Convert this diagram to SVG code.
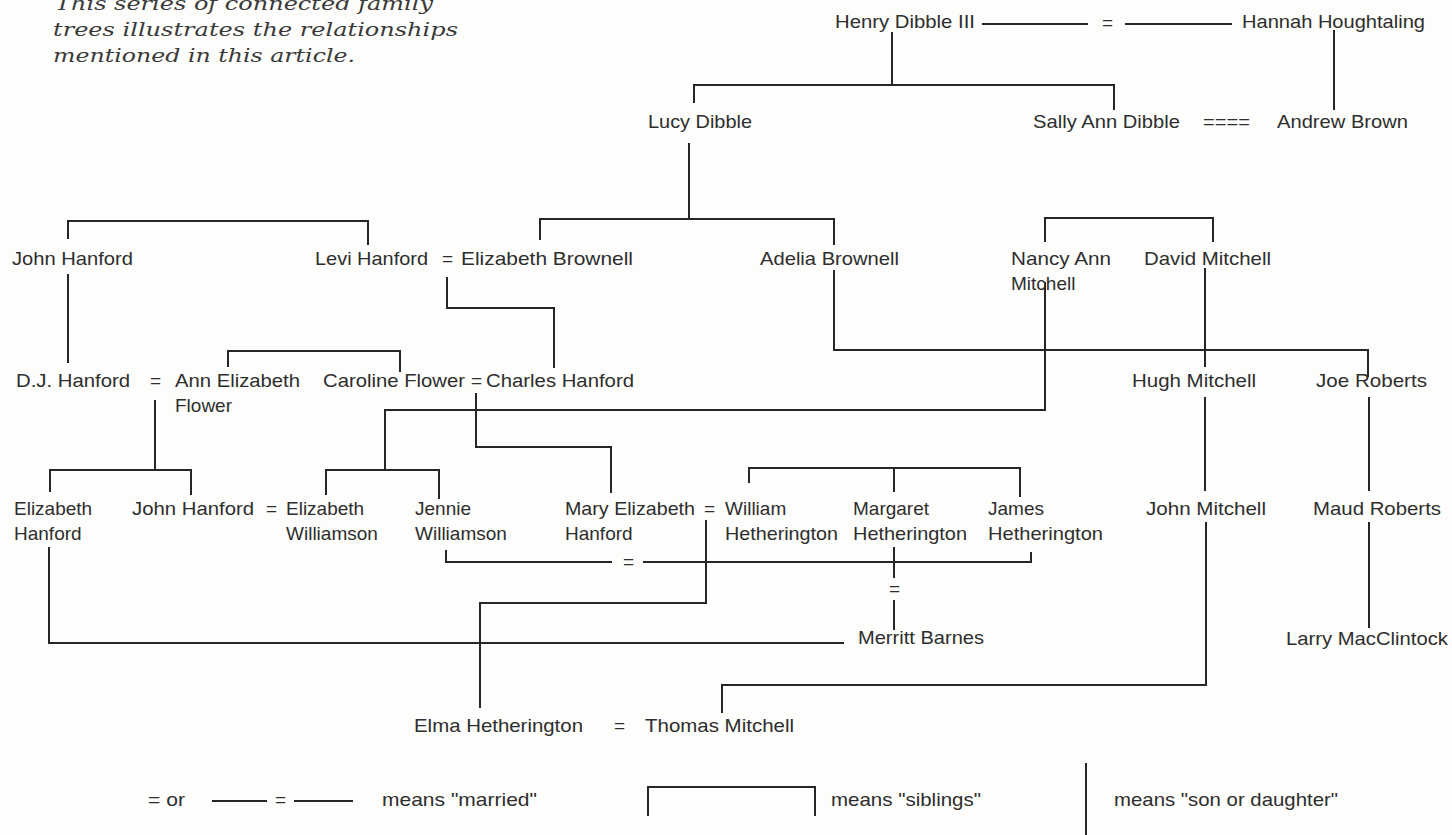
<svg xmlns="http://www.w3.org/2000/svg" width="1452" height="835" viewBox="0 0 1452 835">
<style>
.bg{fill:#fdfdfb}
.n{font-family:"Liberation Sans",Arial,sans-serif;font-size:19px;fill:#2e2e2e}
.cap{font-family:"DejaVu Serif","Liberation Serif",serif;font-style:italic;font-size:19px;fill:#3a3a3a}
.c path{fill:none;stroke:#262626;stroke-width:2}
</style>
<rect class="bg" x="0" y="0" width="1452" height="835"/>
<g id="caption">
<text class="cap" x="55" y="10" textLength="378" lengthAdjust="spacingAndGlyphs">This series of connected family</text>
<text class="cap" x="53" y="36" textLength="405" lengthAdjust="spacingAndGlyphs">trees illustrates the relationships</text>
<text class="cap" x="53" y="62" textLength="302" lengthAdjust="spacingAndGlyphs">mentioned in this article.</text>
</g>
<g id="connectors" class="c">
<path d="M982,24 H1088 M1125,24 H1232"/>
<path d="M892,32 V85 M694,103 V85 H1114 V110"/>
<path d="M1334,30 V110"/>
<path d="M689,143 V219 M540,240 V219 H834 V245"/>
<path d="M68,239 V221 H368 V245"/>
<path d="M68,274 V363"/>
<path d="M447,277 V308 H554 V368"/>
<path d="M228,367 V351 H400 V372"/>
<path d="M834,270 V350 H1368 V377"/>
<path d="M1045,242 V218 H1213 V242"/>
<path d="M1045,282 V410 H385 V470 M326,495 V470 H439 V499"/>
<path d="M1205,268 V367"/>
<path d="M155,400 V470 M50,492 V470 H191 V495"/>
<path d="M476,393 V447 H611 V493"/>
<path d="M749,483 V468 H1020 V497 M894,468 V492"/>
<path d="M1205,397 V491"/>
<path d="M1369,397 V491"/>
<path d="M446,550 V562 H612 M643,562 H1031 V552"/>
<path d="M706,520 V603 H480 V708"/>
<path d="M894,547 V578 M894,600 V630"/>
<path d="M49,547 V643 H844"/>
<path d="M1206,522 V685 H722 V713"/>
<path d="M1369,522 V628"/>
</g>
<g id="marks" class="n">
<text x="1102" y="29">=</text>
<text x="1203" y="128" textLength="47" lengthAdjust="spacingAndGlyphs">====</text>
<text x="442" y="265">=</text>
<text x="150" y="387">=</text>
<text x="471" y="387">=</text>
<text x="266" y="515">=</text>
<text x="704" y="515">=</text>
<text x="623" y="568">=</text>
<text x="889" y="595">=</text>
<text x="614" y="732">=</text>
</g>
<g id="henry"><text class="n" x="835" y="28" textLength="140" lengthAdjust="spacingAndGlyphs">Henry Dibble III</text></g>
<g id="hannah"><text class="n" x="1242" y="28" textLength="183" lengthAdjust="spacingAndGlyphs">Hannah Houghtaling</text></g>
<g id="lucy"><text class="n" x="648" y="128" textLength="104" lengthAdjust="spacingAndGlyphs">Lucy Dibble</text></g>
<g id="sally"><text class="n" x="1033" y="128" textLength="147" lengthAdjust="spacingAndGlyphs">Sally Ann Dibble</text></g>
<g id="andrew"><text class="n" x="1277" y="128" textLength="131" lengthAdjust="spacingAndGlyphs">Andrew Brown</text></g>
<g id="john1"><text class="n" x="12" y="265" textLength="121" lengthAdjust="spacingAndGlyphs">John Hanford</text></g>
<g id="levi"><text class="n" x="315" y="265" textLength="113" lengthAdjust="spacingAndGlyphs">Levi Hanford</text></g>
<g id="elizb"><text class="n" x="461" y="265" textLength="172" lengthAdjust="spacingAndGlyphs">Elizabeth Brownell</text></g>
<g id="adelia"><text class="n" x="760" y="265" textLength="139" lengthAdjust="spacingAndGlyphs">Adelia Brownell</text></g>
<g id="nancy"><text class="n" x="1011" y="265" textLength="100" lengthAdjust="spacingAndGlyphs">Nancy Ann</text><text class="n" x="1011" y="290">Mitchell</text></g>
<g id="david"><text class="n" x="1144" y="265" textLength="127" lengthAdjust="spacingAndGlyphs">David Mitchell</text></g>
<g id="dj"><text class="n" x="16" y="387" textLength="114" lengthAdjust="spacingAndGlyphs">D.J. Hanford</text></g>
<g id="ann"><text class="n" x="175" y="387" textLength="125" lengthAdjust="spacingAndGlyphs">Ann Elizabeth</text><text class="n" x="175" y="412">Flower</text></g>
<g id="caroline"><text class="n" x="323" y="387" textLength="142" lengthAdjust="spacingAndGlyphs">Caroline Flower</text></g>
<g id="charles"><text class="n" x="486" y="387" textLength="148" lengthAdjust="spacingAndGlyphs">Charles Hanford</text></g>
<g id="hugh"><text class="n" x="1132" y="387" textLength="124" lengthAdjust="spacingAndGlyphs">Hugh Mitchell</text></g>
<g id="joe"><text class="n" x="1316" y="387" textLength="111" lengthAdjust="spacingAndGlyphs">Joe Roberts</text></g>
<g id="elizh"><text class="n" x="14" y="515">Elizabeth</text><text class="n" x="14" y="540">Hanford</text></g>
<g id="john2"><text class="n" x="132" y="515" textLength="122" lengthAdjust="spacingAndGlyphs">John Hanford</text></g>
<g id="elizw"><text class="n" x="286" y="515">Elizabeth</text><text class="n" x="286" y="540">Williamson</text></g>
<g id="jennie"><text class="n" x="415" y="515">Jennie</text><text class="n" x="415" y="540">Williamson</text></g>
<g id="mary"><text class="n" x="565" y="515" textLength="130" lengthAdjust="spacingAndGlyphs">Mary Elizabeth</text><text class="n" x="565" y="540">Hanford</text></g>
<g id="william"><text class="n" x="725" y="515">William</text><text class="n" x="725" y="540" textLength="113" lengthAdjust="spacingAndGlyphs">Hetherington</text></g>
<g id="margaret"><text class="n" x="853" y="515">Margaret</text><text class="n" x="853" y="540" textLength="114" lengthAdjust="spacingAndGlyphs">Hetherington</text></g>
<g id="james"><text class="n" x="988" y="515">James</text><text class="n" x="988" y="540" textLength="115" lengthAdjust="spacingAndGlyphs">Hetherington</text></g>
<g id="johnm"><text class="n" x="1146" y="515" textLength="120" lengthAdjust="spacingAndGlyphs">John Mitchell</text></g>
<g id="maud"><text class="n" x="1313" y="515" textLength="128" lengthAdjust="spacingAndGlyphs">Maud Roberts</text></g>
<g id="merritt"><text class="n" x="858" y="644" textLength="126" lengthAdjust="spacingAndGlyphs">Merritt Barnes</text></g>
<g id="larry"><text class="n" x="1286" y="645" textLength="162" lengthAdjust="spacingAndGlyphs">Larry MacClintock</text></g>
<g id="elma"><text class="n" x="414" y="732" textLength="169" lengthAdjust="spacingAndGlyphs">Elma Hetherington</text></g>
<g id="thomas"><text class="n" x="645" y="732" textLength="149" lengthAdjust="spacingAndGlyphs">Thomas Mitchell</text></g>
<g id="legend">
<text class="n" x="148" y="806" textLength="37" lengthAdjust="spacingAndGlyphs">= or</text>
<path d="M212,801 H267 M294,801 H353" fill="none" stroke="#262626" stroke-width="2"/>
<text class="n" x="275" y="806" font-size="15">=</text>
<text class="n" x="382" y="806" textLength="155" lengthAdjust="spacingAndGlyphs">means "married"</text>
<path d="M648,816 V787 H815 V816" fill="none" stroke="#262626" stroke-width="2"/>
<text class="n" x="831" y="806" textLength="150" lengthAdjust="spacingAndGlyphs">means "siblings"</text>
<path d="M1086,763 V835" fill="none" stroke="#262626" stroke-width="2"/>
<text class="n" x="1114" y="806" textLength="224" lengthAdjust="spacingAndGlyphs">means "son or daughter"</text>
</g>
</svg>
